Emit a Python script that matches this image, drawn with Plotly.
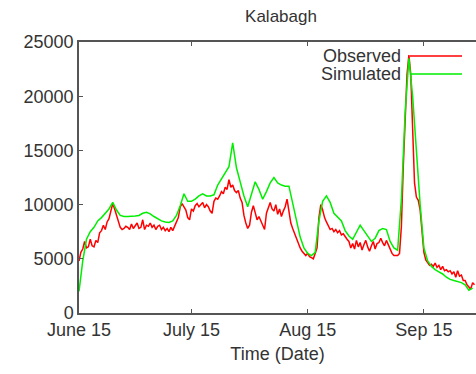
import datetime as dt
import plotly.graph_objects as go

start = dt.datetime(2010, 6, 15)

# Simulated discharge, daily from June 15
simulated = [2000, 4800, 6800, 7500, 7900, 8500, 8800, 9200, 9600, 10200,
             9500, 9000, 8900, 8900, 8900, 8950, 9000, 9200, 9300, 9150,
             8900, 8700, 8500, 8400, 8350, 8500, 9000, 9900, 11000, 10300,
             10300, 10500, 10800, 11000, 10800, 10800, 10900, 11800, 12400, 12900,
             13500, 15700, 13400, 12100, 10800, 9800, 11000, 12100, 11400, 10500,
             11200, 12000, 12500, 12000, 11800, 11700, 11700, 10200, 8500, 7000,
             6000, 5500, 5300, 5600, 8500, 10300, 10800, 10200, 9200, 8800,
             8500, 7600, 7100, 6800, 7500, 8100, 7600, 7100, 6600, 6900,
             7600, 7800, 7700, 6600, 6000, 5800, 10500, 18500, 23500, 20000,
             14500, 10000, 6000, 4800, 4300, 4000, 3800, 3600, 3300, 3100,
             3000, 2900, 2800, 2600, 2100, 2300]

# Observed discharge, twice daily from June 15
observed = [4800, 5600, 5900, 6600, 6000, 6100, 6800, 6200, 6100, 6700,
            6500, 7400, 7600, 8100, 7700, 8400, 8700, 9400, 10100, 9600,
            9000, 8300, 7900, 7700, 7800, 8000, 7900, 7700, 8200, 7800,
            8000, 8300, 7800, 7900, 8600, 7700, 8100, 8000, 8300, 7900,
            8100, 7700, 8000, 8100, 7700, 7900, 7600, 7800, 7500, 7900,
            7600, 8000, 8400, 8800, 9800, 10100, 9800, 9500, 8800, 8600,
            9600, 9400, 9900, 10100, 9800, 10000, 10200, 9700, 10000, 9800,
            9400, 9200, 10300, 10600, 10500, 10800, 11200, 11000, 11600, 11400,
            12300, 11600, 11800, 11300, 11100, 11300, 10600, 10200, 9000, 8300,
            7800, 8100, 9300, 9900, 9100, 8600, 8900, 8500, 8100, 7700,
            9200, 9800, 10200, 9600, 9400, 10000, 9100, 9600, 8900, 9400,
            9800, 10500, 9300, 8300, 7800, 7300, 6800, 6400, 6000, 5700,
            5500, 5300, 5500, 5200, 5100, 5000, 5500, 6000, 8800, 10000,
            9500, 8800, 8400, 8000, 7700, 7800, 7500, 7700, 7400, 7600,
            7200, 7300, 7000, 6800, 6600, 6000, 6400, 5900, 6700, 6100,
            6500, 5800, 6300, 6700, 6100, 5700, 6200, 6600, 5900, 6400,
            6500, 6900, 6500, 6200, 6700, 6300, 5800, 5500, 5300, 5300,
            5300, 5500, 8000, 13500, 17500, 22000, 23800, 22000, 17000, 12000,
            10700, 10400, 9500, 7500, 5600, 4900, 4700, 4400, 4500, 4300,
            4600, 4200, 4400, 4000, 4300, 3900, 4000, 3800, 3900, 3600,
            3800, 3300, 3900, 3400, 3500, 3000, 3000, 2600, 2400, 2200,
            2800, 2600]

tick_dates = [dt.datetime(2010, 6, 15), dt.datetime(2010, 7, 15),
              dt.datetime(2010, 8, 15), dt.datetime(2010, 9, 15)]
tick_labels = ["June 15", "July 15", "Aug 15", "Sep 15"]
y_ticks = [0, 5000, 10000, 15000, 20000, 25000]
y_labels = ["0", "5000", "10000", "15000", "20000", "25000"]

sim_x = [start + dt.timedelta(days=i) for i in range(len(simulated))]
obs_x = [start + dt.timedelta(hours=12 * i) for i in range(len(observed))]

FONT = "Liberation Sans, Arial, sans-serif"
AX = "#555555"
TXT = "#333333"

fig = go.Figure()
fig.add_trace(go.Scatter(x=obs_x, y=observed, mode="lines", name="Observed",
                         line=dict(color="#ff0000", width=1.5)))
fig.add_trace(go.Scatter(x=sim_x, y=simulated, mode="lines", name="Simulated",
                         line=dict(color="#00ee00", width=1.5)))

axis_common = dict(showgrid=False, zeroline=False, showline=True, linecolor=AX,
                   linewidth=1.5, ticks="inside", ticklen=4, tickcolor=AX,
                   automargin=False,
                   tickfont=dict(family=FONT, size=18, color=TXT))

fig.update_xaxes(range=[start, start + dt.timedelta(days=105.9)],
                 tickvals=tick_dates, ticktext=tick_labels, mirror="ticks",
                 title=dict(text="Time (Date)", font=dict(family=FONT, size=18, color=TXT),
                            standoff=8),
                 **axis_common)
fig.update_yaxes(range=[0, 25000], tickvals=y_ticks, ticktext=y_labels, **axis_common)

# legend drawn gnuplot-style: label left of the sample line
leg = [("Observed", "#ff0000", 56), ("Simulated", "#00ee00", 74)]
for name, col, ypx in leg:
    yp = 1 - (ypx - 42) / 271
    fig.add_annotation(xref="paper", yref="paper", x=(403 - 79) / 397, y=yp,
                       text=name, showarrow=False, xanchor="right", yanchor="middle",
                       font=dict(family=FONT, size=18, color=TXT))
    fig.add_shape(type="line", xref="paper", yref="paper",
                  x0=(410 - 79) / 397, x1=(462 - 79) / 397, y0=yp, y1=yp,
                  line=dict(color=col, width=1.5))

fig.update_layout(
    width=476, height=374,
    margin=dict(l=79, r=0, t=42, b=61),
    paper_bgcolor="white", plot_bgcolor="white",
    showlegend=False,
    title=dict(text="Kalabagh", x=281 / 476, xanchor="center", xref="container",
               y=1 - 16 / 374, yanchor="middle", yref="container",
               font=dict(family=FONT, size=17, color=TXT), automargin=False),
)

fig.write_html("out.html", config={"displayModeBar": False},
               post_script="document.body.style.margin='0';document.body.style.padding='0';")
